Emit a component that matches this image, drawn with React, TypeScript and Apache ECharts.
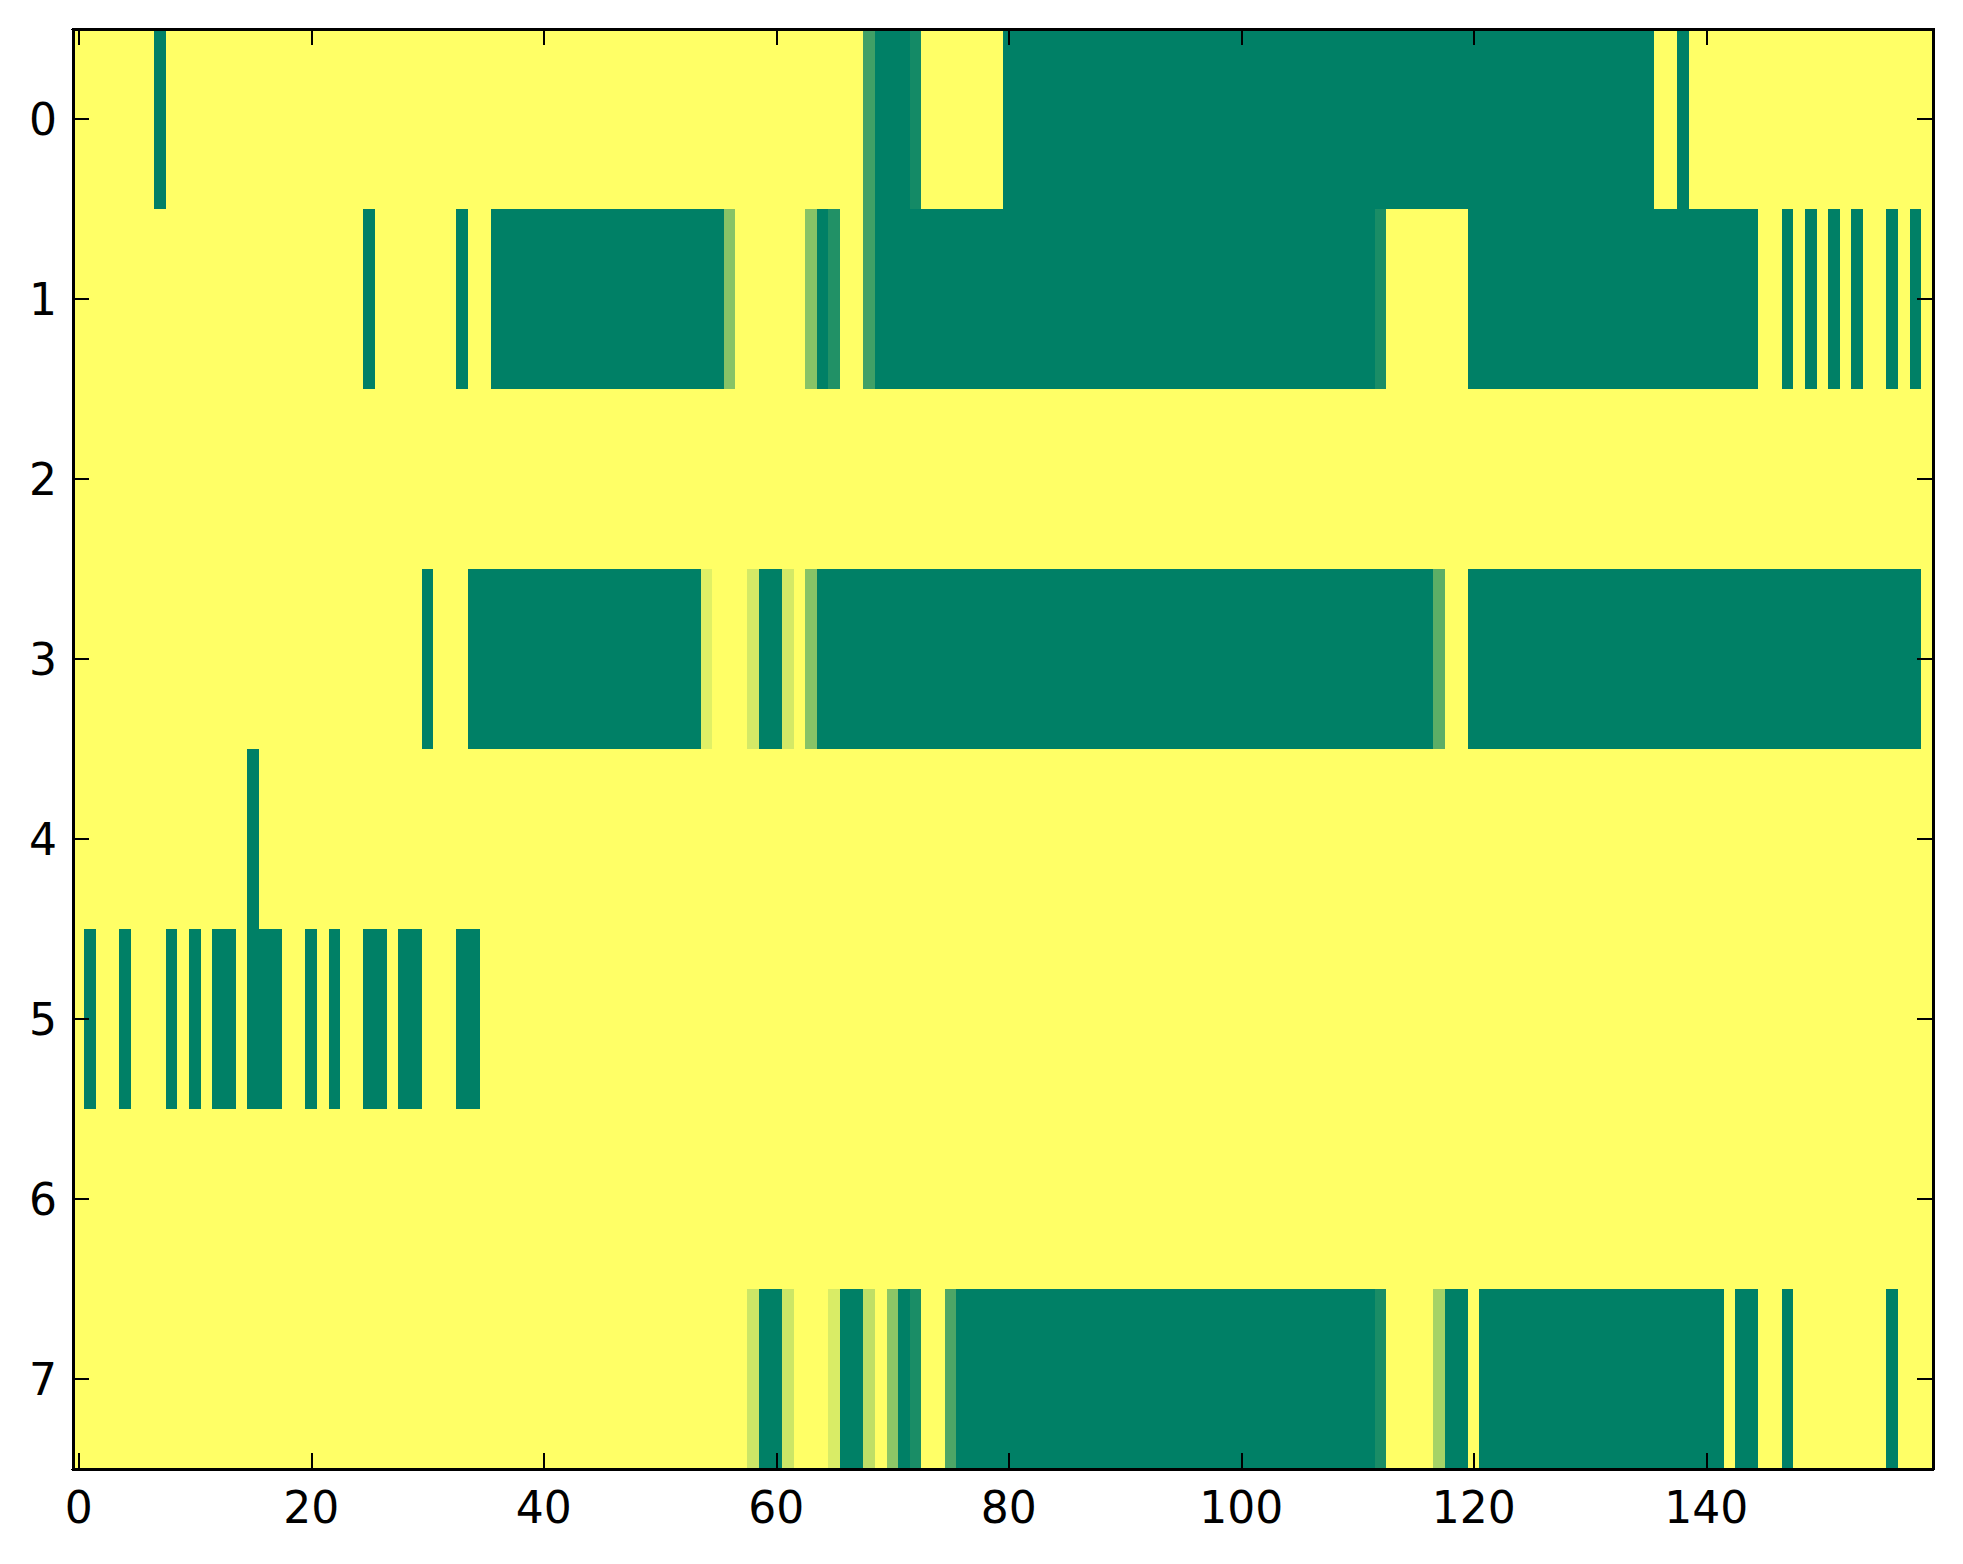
import React, { useEffect, useRef } from "react";
import * as echarts from "echarts";

const columns: string[] = Array.from({ length: 160 }, (_, i) => String(i));
const rowLabels: string[] = ["0", "1", "2", "3", "4", "5", "6", "7"];

const row0: number[] = [
  0,0,0,0,0,0,0,1,0,0, 0,0,0,0,0,0,0,0,0,0,
  0,0,0,0,0,0,0,0,0,0, 0,0,0,0,0,0,0,0,0,0,
  0,0,0,0,0,0,0,0,0,0, 0,0,0,0,0,0,0,0,0,0,
  0,0,0,0,0,0,0,0,.75,1, 1,1,.92,0,0,0,0,0,0,0,
  1,1,1,1,1,1,1,1,1,1, 1,1,1,1,1,1,1,1,1,1,
  1,1,1,1,1,1,1,1,1,1, 1,1,1,1,1,1,1,1,1,1,
  1,1,1,1,1,1,1,1,1,1, 1,1,1,1,1,1,0,0,1,0,
  0,0,0,0,0,0,0,0,0,0, 0,0,0,0,0,0,0,0,0,0,
];
const row1: number[] = [
  0,0,0,0,0,0,0,0,0,0, 0,0,0,0,0,0,0,0,0,0,
  0,0,0,0,0,1,0,0,0,0, 0,0,0,1,0,0,1,1,1,1,
  1,1,1,1,1,1,1,1,1,1, 1,1,1,1,1,1,.47,0,0,0,
  0,0,0,.47,1,.87,0,0,.75,1, 1,1,1,1,1,1,1,1,1,1,
  1,1,1,1,1,1,1,1,1,1, 1,1,1,1,1,1,1,1,1,1,
  1,1,1,1,1,1,1,1,1,1, 1,1,.9,0,0,0,0,0,0,0,
  1,1,1,1,1,1,1,1,1,1, 1,1,1,1,1,1,1,1,1,1,
  1,1,1,1,1,0,0,1,0,1, 0,1,0,1,0,0,1,0,1,0,
];
const row2: number[] = [
  0,0,0,0,0,0,0,0,0,0, 0,0,0,0,0,0,0,0,0,0,
  0,0,0,0,0,0,0,0,0,0, 0,0,0,0,0,0,0,0,0,0,
  0,0,0,0,0,0,0,0,0,0, 0,0,0,0,0,0,0,0,0,0,
  0,0,0,0,0,0,0,0,0,0, 0,0,0,0,0,0,0,0,0,0,
  0,0,0,0,0,0,0,0,0,0, 0,0,0,0,0,0,0,0,0,0,
  0,0,0,0,0,0,0,0,0,0, 0,0,0,0,0,0,0,0,0,0,
  0,0,0,0,0,0,0,0,0,0, 0,0,0,0,0,0,0,0,0,0,
  0,0,0,0,0,0,0,0,0,0, 0,0,0,0,0,0,0,0,0,0,
];
const row3: number[] = [
  0,0,0,0,0,0,0,0,0,0, 0,0,0,0,0,0,0,0,0,0,
  0,0,0,0,0,0,0,0,0,0, 1,0,0,0,1,1,1,1,1,1,
  1,1,1,1,1,1,1,1,1,1, 1,1,1,1,.12,0,0,0,.17,1,
  1,.17,0,.47,1,1,1,1,1,1, 1,1,1,1,1,1,1,1,1,1,
  1,1,1,1,1,1,1,1,1,1, 1,1,1,1,1,1,1,1,1,1,
  1,1,1,1,1,1,1,1,1,1, 1,1,1,1,1,1,1,.64,0,0,
  1,1,1,1,1,1,1,1,1,1, 1,1,1,1,1,1,1,1,1,1,
  1,1,1,1,1,1,1,1,1,1, 1,1,1,1,1,1,1,1,1,0,
];
const row4: number[] = [
  0,0,0,0,0,0,0,0,0,0, 0,0,0,0,0,1,0,0,0,0,
  0,0,0,0,0,0,0,0,0,0, 0,0,0,0,0,0,0,0,0,0,
  0,0,0,0,0,0,0,0,0,0, 0,0,0,0,0,0,0,0,0,0,
  0,0,0,0,0,0,0,0,0,0, 0,0,0,0,0,0,0,0,0,0,
  0,0,0,0,0,0,0,0,0,0, 0,0,0,0,0,0,0,0,0,0,
  0,0,0,0,0,0,0,0,0,0, 0,0,0,0,0,0,0,0,0,0,
  0,0,0,0,0,0,0,0,0,0, 0,0,0,0,0,0,0,0,0,0,
  0,0,0,0,0,0,0,0,0,0, 0,0,0,0,0,0,0,0,0,0,
];
const row5: number[] = [
  0,1,0,0,1,0,0,0,1,0, 1,0,1,1,0,1,1,1,0,0,
  1,0,1,0,0,1,1,0,1,1, 0,0,0,1,1,0,0,0,0,0,
  0,0,0,0,0,0,0,0,0,0, 0,0,0,0,0,0,0,0,0,0,
  0,0,0,0,0,0,0,0,0,0, 0,0,0,0,0,0,0,0,0,0,
  0,0,0,0,0,0,0,0,0,0, 0,0,0,0,0,0,0,0,0,0,
  0,0,0,0,0,0,0,0,0,0, 0,0,0,0,0,0,0,0,0,0,
  0,0,0,0,0,0,0,0,0,0, 0,0,0,0,0,0,0,0,0,0,
  0,0,0,0,0,0,0,0,0,0, 0,0,0,0,0,0,0,0,0,0,
];
const row6: number[] = [
  0,0,0,0,0,0,0,0,0,0, 0,0,0,0,0,0,0,0,0,0,
  0,0,0,0,0,0,0,0,0,0, 0,0,0,0,0,0,0,0,0,0,
  0,0,0,0,0,0,0,0,0,0, 0,0,0,0,0,0,0,0,0,0,
  0,0,0,0,0,0,0,0,0,0, 0,0,0,0,0,0,0,0,0,0,
  0,0,0,0,0,0,0,0,0,0, 0,0,0,0,0,0,0,0,0,0,
  0,0,0,0,0,0,0,0,0,0, 0,0,0,0,0,0,0,0,0,0,
  0,0,0,0,0,0,0,0,0,0, 0,0,0,0,0,0,0,0,0,0,
  0,0,0,0,0,0,0,0,0,0, 0,0,0,0,0,0,0,0,0,0,
];
const row7: number[] = [
  0,0,0,0,0,0,0,0,0,0, 0,0,0,0,0,0,0,0,0,0,
  0,0,0,0,0,0,0,0,0,0, 0,0,0,0,0,0,0,0,0,0,
  0,0,0,0,0,0,0,0,0,0, 0,0,0,0,0,0,0,0,.2,1,
  1,.2,0,0,0,.15,1,1,.25,0, .45,1,.9,0,0,.7,1,1,1,1,
  1,1,1,1,1,1,1,1,1,1, 1,1,1,1,1,1,1,1,1,1,
  1,1,1,1,1,1,1,1,1,1, 1,1,.9,0,0,0,0,.35,1,1,
  0,1,1,1,1,1,1,1,1,1, 1,1,1,1,1,1,1,1,1,1,
  1,1,0,1,1,0,0,1,0,0, 0,0,0,0,0,0,1,0,0,0,
];

const rows: number[][] = [row0, row1, row2, row3, row4, row5, row6, row7];

const FONT = "DejaVu Sans";
const labelEvery20 = (index: number) => index % 20 === 0;

export default function App() {
  const ref = useRef<HTMLDivElement>(null);
  useEffect(() => {
    if (!ref.current) return;
    const chart = echarts.init(ref.current, undefined, { renderer: "svg" });
    const data: number[][] = [];
    rows.forEach((r, y) => r.forEach((v, x) => data.push([x, y, v])));

    const tick = { show: true, inside: true, length: 16, alignWithLabel: true, lineStyle: { color: "#000", width: 2 } };
    const axisLine = { show: true, onZero: false, lineStyle: { color: "#000", width: 3 } };

    chart.setOption({
      animation: false,
      backgroundColor: "#ffffff",
      grid: { left: 73, right: 30, top: 29, bottom: 95, containLabel: false },
      visualMap: {
        show: false,
        min: 0,
        max: 1,
        dimension: 2,
        seriesIndex: 0,
        inRange: { color: ["#ffff66", "#008066"] },
      },
      xAxis: [
        {
          type: "category",
          data: columns,
          position: "bottom",
          z: 10,
          axisLine,
          axisTick: { ...tick, interval: labelEvery20 },
          axisLabel: { interval: labelEvery20, fontFamily: FONT, fontSize: 44, color: "#000", margin: 16 },
          splitLine: { show: false },
        },
        {
          type: "category",
          data: columns,
          position: "top",
          z: 10,
          axisLine,
          axisTick: { ...tick, interval: labelEvery20 },
          axisLabel: { show: false },
          splitLine: { show: false },
        },
      ],
      yAxis: [
        {
          type: "category",
          data: rowLabels,
          inverse: true,
          position: "left",
          z: 10,
          axisLine,
          axisTick: tick,
          axisLabel: { fontFamily: FONT, fontSize: 44, color: "#000", margin: 16 },
          splitLine: { show: false },
        },
        {
          type: "category",
          data: rowLabels,
          inverse: true,
          position: "right",
          z: 10,
          axisLine,
          axisTick: tick,
          axisLabel: { show: false },
          splitLine: { show: false },
        },
      ],
      series: [
        {
          type: "heatmap",
          xAxisIndex: 0,
          yAxisIndex: 0,
          data,
          itemStyle: { borderWidth: 0 },
          emphasis: { disabled: true },
        },
      ],
    });
    return () => chart.dispose();
  }, []);
  return (
    <>
      <style>{"#heatmap-chart svg path { shape-rendering: crispEdges; }"}</style>
      <div
        id="heatmap-chart"
        ref={ref}
        style={{ position: "fixed", left: 0, top: 0, width: 1963, height: 1564, background: "#fff" }}
      />
    </>
  );
}
